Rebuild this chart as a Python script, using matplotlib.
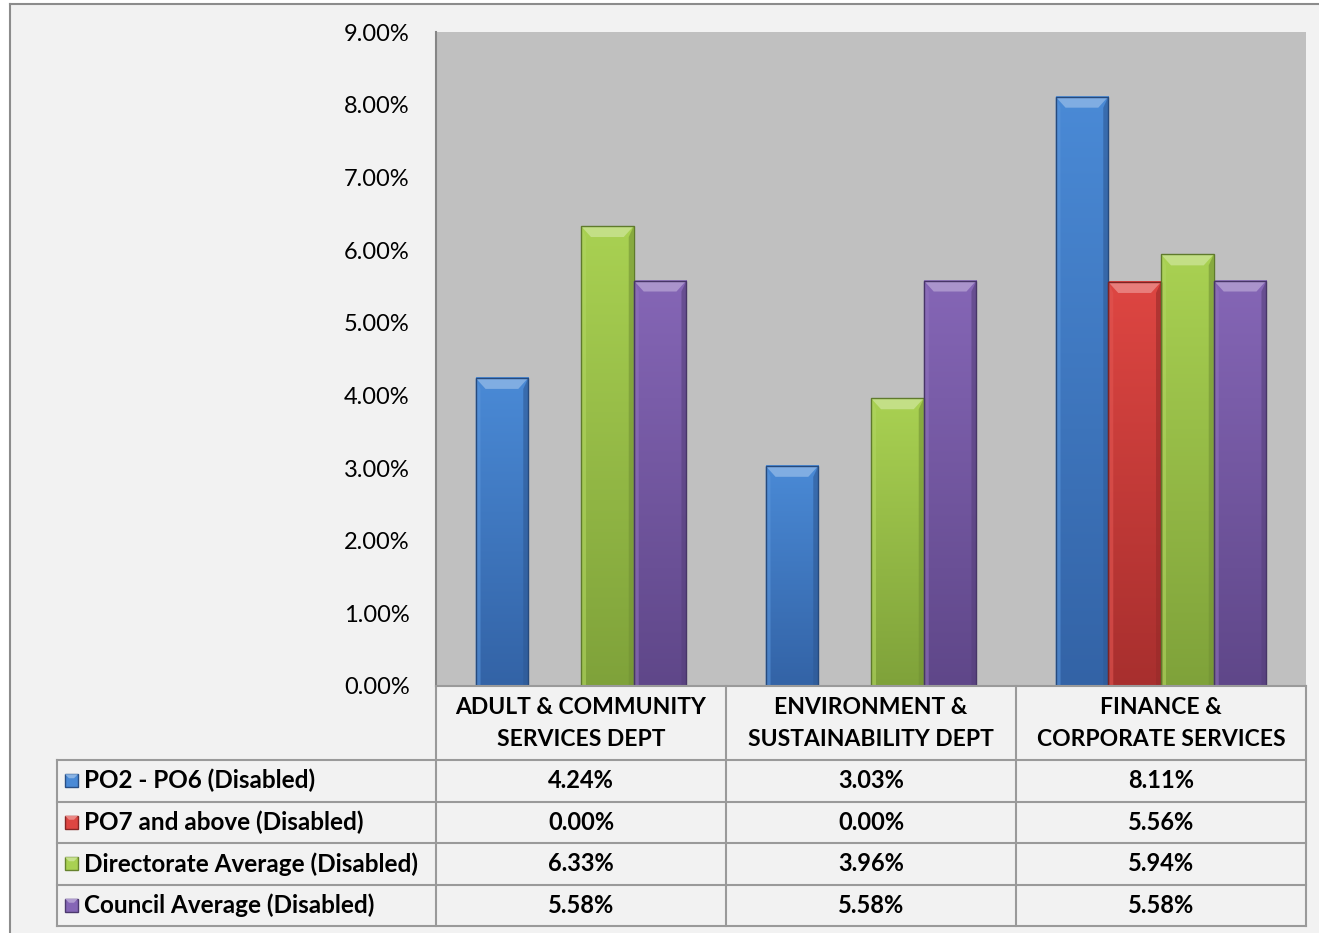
import numpy as np
import matplotlib.pyplot as plt
from matplotlib.patches import Rectangle, Polygon
from matplotlib.lines import Line2D
from matplotlib.colors import to_rgb, LinearSegmentedColormap

plt.rcParams['font.family'] = ['Lato', 'DejaVu Sans']

# data
categories = ['ADULT & COMMUNITY\nSERVICES DEPT',
              'ENVIRONMENT &\nSUSTAINABILITY DEPT',
              'FINANCE &\nCORPORATE SERVICES']
series_names = ['PO2 - PO6 (Disabled)', 'PO7 and above (Disabled)',
                'Directorate Average (Disabled)', 'Council Average (Disabled)']
po2_po6 = [4.24, 3.03, 8.11]
po7_above = [0.00, 0.00, 5.56]
directorate_avg = [6.33, 3.96, 5.94]
council_avg = [5.58, 5.58, 5.58]
y_ticks = [0, 1, 2, 3, 4, 5, 6, 7, 8, 9]

series_values = [po2_po6, po7_above, directorate_avg, council_avg]
# (top colour, bottom colour) for each series
series_colors = [('#4a8ad6', '#3363a6'),
                 ('#de4642', '#a82f2e'),
                 ('#a9d152', '#7fa23a'),
                 ('#8566b6', '#5f4789')]

W, H = 1319, 933
fig = plt.figure(figsize=(W / 100, H / 100), dpi=100, facecolor='white')


def fx(px):
    return px / W


def fy(py):
    return 1 - py / H


def lighten(c, f):
    r = np.array(to_rgb(c))
    return tuple(r + (1 - r) * f)


def darken(c, f):
    return tuple(np.array(to_rgb(c)) * (1 - f))


# chart area panel (runs off the right and bottom edges), border only top/left
fig.patches.append(Rectangle((fx(10), 0), 1, fy(4), transform=fig.transFigure,
                             facecolor='#f2f2f2', edgecolor='none', zorder=-2))
fig.lines.append(Line2D([fx(10), 1], [fy(4), fy(4)], transform=fig.transFigure,
                        color='#8c8c8c', lw=1.5, zorder=-1))
fig.lines.append(Line2D([fx(10), fx(10)], [0, fy(4)], transform=fig.transFigure,
                        color='#8c8c8c', lw=1.5, zorder=-1))

# plot area
pl, pr, pt, pb = 436, 1306, 32, 686
ax = fig.add_axes([fx(pl), fy(pb), (pr - pl) / W, (pb - pt) / H])
ax.set_facecolor('#c0c0c0')

n_cat = len(categories)
n_ser = len(series_values)
bw = 1 / (n_ser + 1.5)  # 150% gap width
x_base = np.arange(n_cat)

# bevel size in data units (~10 px)
dx = 10 / ((pr - pl) / 3)
dy = 11 / ((pb - pt) / 9)

for i, vals in enumerate(series_values):
    top_c, bot_c = series_colors[i]
    cmap = LinearSegmentedColormap.from_list('g%d' % i, [bot_c, top_c])
    for xc, v in zip(x_base + (i - (n_ser - 1) / 2) * bw, vals):
        if v <= 0:
            continue
        x0, x1 = xc - bw / 2, xc + bw / 2
        grad = np.linspace(0, 1, 256).reshape(-1, 1)
        ax.imshow(grad, extent=[x0, x1, 0, v], origin='lower', cmap=cmap,
                  aspect='auto', zorder=2, interpolation='bilinear')
        # top bevel
        ax.add_patch(Polygon([(x0, v), (x1, v), (x1 - dx, v - dy), (x0 + dx, v - dy)],
                             closed=True, facecolor=lighten(top_c, 0.3),
                             edgecolor='none', zorder=3))
        # side shading
        ax.add_patch(Polygon([(x0, 0), (x0, v), (x0 + dx * 0.5, v - dy), (x0 + dx * 0.5, 0)],
                             closed=True, facecolor=lighten(top_c, 0.08),
                             edgecolor='none', zorder=3, alpha=0.6))
        ax.add_patch(Polygon([(x1, 0), (x1, v), (x1 - dx * 0.5, v - dy), (x1 - dx * 0.5, 0)],
                             closed=True, facecolor=darken(bot_c, 0.1),
                             edgecolor='none', zorder=3, alpha=0.6))
        ax.add_patch(Rectangle((x0, 0), bw, v, facecolor='none',
                               edgecolor=darken(bot_c, 0.25), linewidth=1, zorder=4))

ax.set_xlim(-0.5, n_cat - 0.5)
ax.set_ylim(0, 9)
ax.set_xticks([])
ax.set_yticks(y_ticks)
ax.set_yticklabels(['%.2f%%' % t for t in y_ticks], fontsize=17, color='black')
ax.tick_params(axis='y', length=0, pad=19)
for s in ['top', 'right', 'bottom']:
    ax.spines[s].set_visible(False)
ax.spines['left'].set_color('#868686')
ax.spines['left'].set_linewidth(1.5)

# data table
tab = fig.add_axes([0, 0, 1, 1])
tab.set_xlim(0, W)
tab.set_ylim(H, 0)
tab.axis('off')

line_c = '#9a9a9a'
col_x = [pl + k * (pr - pl) / n_cat for k in range(n_cat + 1)]
tl = 57
head_bottom = 760
row_h = 41.5
row_y = [head_bottom + k * row_h for k in range(n_ser + 1)]

for k, cx in enumerate(col_x):
    tab.plot([cx, cx], [pb, row_y[-1]], color=line_c, lw=1.5)
tab.plot([pl, pr], [pb, pb], color=line_c, lw=1.5)
tab.plot([tl, tl], [row_y[0], row_y[-1]], color=line_c, lw=1.5)
for ry in row_y:
    tab.plot([tl, pr], [ry, ry], color=line_c, lw=1.5)

for k, cat in enumerate(categories):
    cx = (col_x[k] + col_x[k + 1]) / 2
    for j, line in enumerate(cat.split('\n')):
        tab.text(cx, 707 + j * 32, line, ha='center', va='center',
                 fontsize=16.5, fontweight='bold')

for i, name in enumerate(series_names):
    cy = (row_y[i] + row_y[i + 1]) / 2
    top_c, bot_c = series_colors[i]
    tab.add_patch(Rectangle((65, cy - 6.5), 13, 13, facecolor=top_c,
                            edgecolor=darken(bot_c, 0.2), linewidth=1))
    tab.add_patch(Polygon([(65, cy - 6.5), (78, cy - 6.5), (74, cy - 2.5), (69, cy - 2.5)],
                          closed=True, facecolor=lighten(top_c, 0.35), edgecolor='none'))
    tab.text(84, cy, name, ha='left', va='center', fontsize=17.5, fontweight='bold')
    for k, v in enumerate(series_values[i]):
        cx = (col_x[k] + col_x[k + 1]) / 2
        tab.text(cx, cy, '%.2f%%' % v, ha='center', va='center',
                 fontsize=17, fontweight='bold')

fig.savefig('out.png', dpi=100, facecolor=fig.get_facecolor())
